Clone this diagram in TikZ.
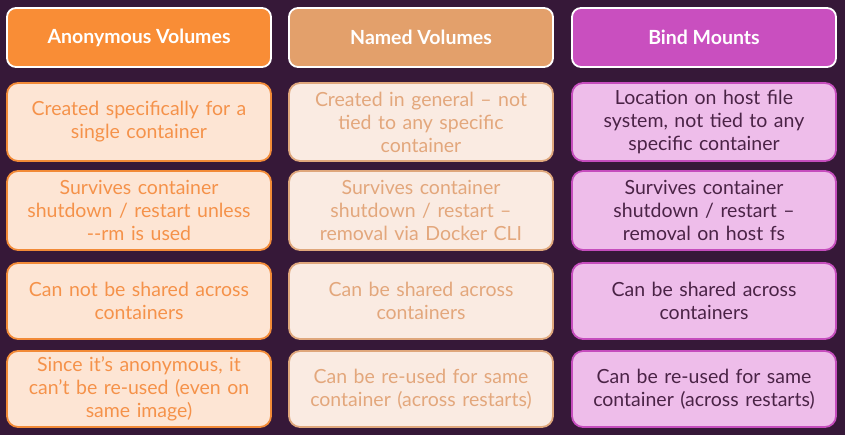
\documentclass[tikz,border=0pt]{standalone}
\usepackage{fontspec}
\setmainfont{Lato}
\definecolor{bg}{HTML}{361838}
\definecolor{hA}{HTML}{F98D36}
\definecolor{hB}{HTML}{E3A06B}
\definecolor{hC}{HTML}{C94FBF}
\definecolor{fA}{HTML}{FDE5D4}
\definecolor{bA}{HTML}{F28A37}
\definecolor{tA}{HTML}{F5924A}
\definecolor{fB}{HTML}{FAEBE2}
\definecolor{bB}{HTML}{DFA77C}
\definecolor{tB}{HTML}{E3A77C}
\definecolor{fC}{HTML}{EEBDEA}
\definecolor{bC}{HTML}{C54DBD}
\definecolor{tC}{HTML}{4A2346}
\tikzset{
  hdr/.style={draw=white, line width=1.8pt, rounded corners=9pt, minimum width=264pt, minimum height=59pt, text=white, font=\fontsize{19.5}{23}\selectfont\bfseries, inner sep=0pt},
  cell/.style={line width=1.8pt, rounded corners=11pt, minimum width=264pt, text width=256pt, align=center, font=\fontsize{19.5}{23}\selectfont, inner sep=0pt},
  cA/.style={cell, draw=bA, fill=fA, text=tA},
  cB/.style={cell, draw=bB, fill=fB, text=tB},
  cC/.style={cell, draw=bC, fill=fC, text=tC},
}
\begin{document}
\begin{tikzpicture}[x=1pt,y=1pt]
\fill[bg] (0,0) rectangle (845,-435);
\useasboundingbox (0,0) rectangle (845,-435);
% headers
\node[hdr, fill=hA] (hA) at (139,-37.5) {Anonymous Volumes};
\node[hdr, fill=hB] (hB) at (421,-37.5) {Named Volumes};
\node[hdr, fill=hC] (hC) at (704,-37.5) {Bind Mounts};
% row 1
\node[cA, minimum height=78pt] (a1) at (139,-122) {Created specifically for a\\single container};
\node[cB, minimum height=78pt] (b1) at (421,-122) {Created in general -- not\\tied to any specific\\container};
\node[cC, minimum height=78pt] (c1) at (704,-122) {Location on host file\\system, not tied to any\\specific container};
% row 2
\node[cA, minimum height=79pt] (a2) at (139,-210.5) {Survives container\\shutdown / restart unless\\-{}-rm is used};
\node[cB, minimum height=79pt] (b2) at (421,-210.5) {Survives container\\shutdown / restart --\\removal via Docker CLI};
\node[cC, minimum height=79pt] (c2) at (704,-210.5) {Survives container\\shutdown / restart --\\removal on host fs};
% row 3
\node[cA, minimum height=76pt] (a3) at (139,-301) {Can not be shared across\\containers};
\node[cB, minimum height=76pt] (b3) at (421,-301) {Can be shared across\\containers};
\node[cC, minimum height=76pt] (c3) at (704,-301) {Can be shared across\\containers};
% row 4
\node[cA, minimum height=76pt] (a4) at (139,-389) {Since it's anonymous, it\\can't be re-used (even on\\same image)};
\node[cB, minimum height=76pt] (b4) at (421,-389) {Can be re-used for same\\container (across restarts)};
\node[cC, minimum height=76pt] (c4) at (704,-389) {Can be re-used for same\\container (across restarts)};
\end{tikzpicture}
\end{document}
